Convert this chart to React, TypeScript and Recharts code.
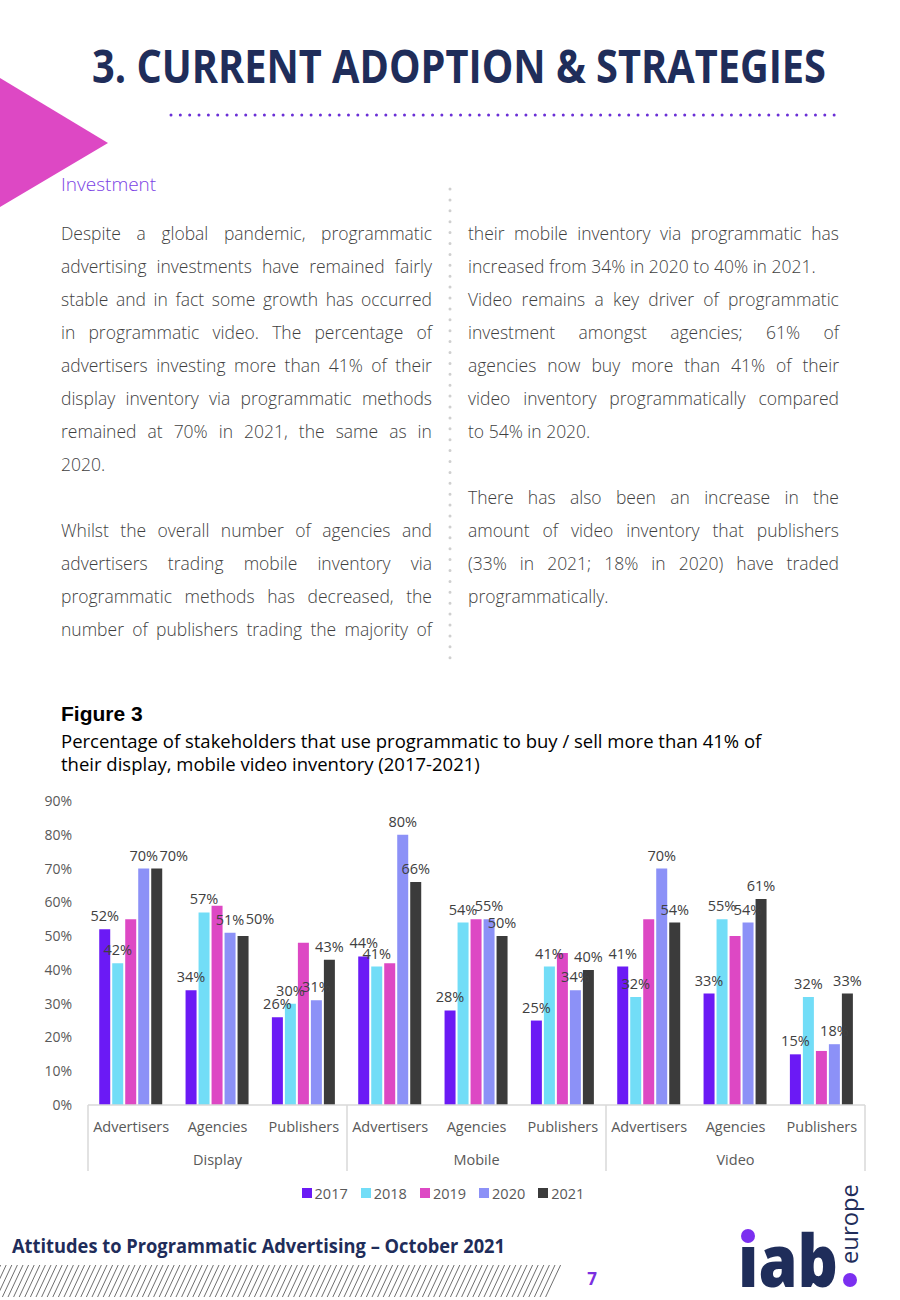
import { BarChart, Bar, XAxis, YAxis, Legend, LabelList } from "recharts";

// --- chart data (Figure 3) ---
const mediums = ["Display", "Mobile", "Video"];
const stakeholders = ["Advertisers", "Agencies", "Publishers"];
const years = ["2017", "2018", "2019", "2020", "2021"];
const yearColors = ["#6B1AF5", "#72DDF7", "#DD48C4", "#8C91F7", "#3B3B3B"];

// order: Display(Adv, Ag, Pub), Mobile(Adv, Ag, Pub), Video(Adv, Ag, Pub)
const values2017 = [52, 34, 26, 44, 28, 25, 41, 33, 15];
const values2018 = [42, 57, 30, 41, 54, 41, 32, 55, 32];
const values2019 = [55, 59, 48, 42, 55, 45, 55, 50, 16];
const values2020 = [70, 51, 31, 80, 55, 34, 70, 54, 18];
const values2021 = [70, 50, 43, 66, 50, 40, 54, 61, 33];
const yTicks = [0, 10, 20, 30, 40, 50, 60, 70, 80, 90];

// the 2019 series carries no data labels in the source
const labelledYears = [true, true, false, true, true];

const seriesValues = [values2017, values2018, values2019, values2020, values2021];

const chartData = mediums.flatMap((m, mi) =>
  stakeholders.map((s, si) => {
    const i = mi * 3 + si;
    const row: Record<string, string | number> = { medium: m, stakeholder: s };
    years.forEach((y, yi) => {
      row["y" + y] = seriesValues[yi][i];
    });
    return row;
  }),
);

const navy = "#1F2D5A";
const axisGrey = "#D9D9D9";
const tickGrey = "#595959";

// --- page text ---
const leftLines: [string, boolean, number][] = [
  ["Despite a global pandemic, programmatic", true, 0],
  ["advertising investments have remained fairly", true, 1],
  ["stable and in fact some growth has occurred", true, 2],
  ["in programmatic video. The percentage of", true, 3],
  ["advertisers investing more than 41% of their", true, 4],
  ["display inventory via programmatic methods", true, 5],
  ["remained at 70% in 2021, the same as in", true, 6],
  ["2020.", false, 7],
  ["Whilst the overall number of agencies and", true, 9],
  ["advertisers trading mobile inventory via", true, 10],
  ["programmatic methods has decreased, the", true, 11],
  ["number of publishers trading the majority of", true, 12],
];

const rightLines: [string, boolean, number][] = [
  ["their mobile inventory via programmatic has", true, 0],
  ["increased from 34% in 2020 to 40% in 2021.", false, 1],
  ["Video remains a key driver of programmatic", true, 2],
  ["investment amongst agencies; 61% of", true, 3],
  ["agencies now buy more than 41% of their", true, 4],
  ["video inventory programmatically compared", true, 5],
  ["to 54% in 2020.", false, 6],
  ["There has also been an increase in the", true, 8],
  ["amount of video inventory that publishers", true, 9],
  ["(33% in 2021; 18% in 2020) have traded", true, 10],
  ["programmatically.", false, 11],
];

function TextLine({ text, justify, row, left }: { text: string; justify: boolean; row: number; left: number }) {
  const base: React.CSSProperties = {
    position: "absolute",
    left,
    top: 217 + row * 33,
    width: 371,
    height: 33,
    lineHeight: "33px",
    fontSize: 17.5,
    fontWeight: 300,
    color: "#3F3F3F",
    whiteSpace: "nowrap",
  };
  if (!justify) return <div style={base}>{text}</div>;
  return (
    <div style={{ ...base, display: "flex", justifyContent: "space-between" }}>
      {text.split(" ").map((w, i) => (
        <span key={i}>{w}</span>
      ))}
    </div>
  );
}

function StakeholderTick(props: any) {
  const { x, y, payload, index } = props;
  const half = payload && typeof payload.offset === "number" && payload.offset > 0 ? payload.offset : 777 / 18;
  const i = index as number;
  return (
    <g>
      <text x={x} y={y + 27} textAnchor="middle" fontSize={14.5} fill={tickGrey} fontFamily="Open Sans">
        {payload.value}
      </text>
      {i % 3 === 1 && (
        <text x={x} y={y + 60} textAnchor="middle" fontSize={14.5} fill={tickGrey} fontFamily="Open Sans">
          {chartData[i].medium as string}
        </text>
      )}
      {i % 3 === 0 && <line x1={x - half} x2={x - half} y1={y} y2={y + 66} stroke={axisGrey} strokeWidth={1.5} />}
      {i === chartData.length - 1 && (
        <line x1={x + half} x2={x + half} y1={y} y2={y + 66} stroke={axisGrey} strokeWidth={1.5} />
      )}
    </g>
  );
}

// Data label above a bar; the 2021 label steps aside when it would sit on the 2020 one
function makeValueLabel(yearIndex: number) {
  return function ValueLabel(props: any) {
    const { x, y, width, value, index } = props;
    let dx = 0;
    let dy = 0;
    if (yearIndex === 4 && Math.abs(values2021[index] - values2020[index]) <= 3) {
      dx = 17;
      dy = values2021[index] === values2020[index] ? 0 : -4;
    }
    return (
      <text
        x={x + width / 2 + dx}
        y={y - 8 + dy}
        textAnchor="middle"
        fontSize={14.5}
        fill="#404040"
        fontFamily="Open Sans"
      >
        {`${value}%`}
      </text>
    );
  };
}

function LegendContent() {
  return (
    <div style={{ display: "flex", justifyContent: "center", height: 24, alignItems: "center", paddingLeft: 14 }}>
      {years.map((y, i) => (
        <div key={y} style={{ display: "flex", alignItems: "center", marginRight: 13 }}>
          <span style={{ width: 10, height: 10, background: yearColors[i], display: "inline-block", marginRight: 3 }} />
          <span style={{ fontSize: 14.5, color: tickGrey, fontFamily: "Open Sans" }}>{y}</span>
        </div>
      ))}
    </div>
  );
}

function Figure3Chart() {
  return (
    <BarChart
      width={866}
      height={420}
      data={chartData}
      margin={{ top: 11, right: 21, left: 0, bottom: 5 }}
      barCategoryGap="13%"
      barGap={2}
    >
      <XAxis
        dataKey="stakeholder"
        interval={0}
        axisLine={{ stroke: axisGrey, strokeWidth: 1.5 }}
        tickLine={false}
        tickSize={0}
        tickMargin={0}
        height={76}
        tick={<StakeholderTick />}
      />
      <YAxis
        domain={[0, 90]}
        ticks={yTicks}
        width={68}
        axisLine={false}
        tickLine={false}
        tickSize={0}
        tickMargin={16}
        tickFormatter={(v) => `${v}%`}
        tick={{ fontSize: 14, fill: tickGrey, fontFamily: "Open Sans" }}
      />
      <Legend verticalAlign="bottom" content={<LegendContent />} />
      {years.map((y, i) => {
        const Label = makeValueLabel(i);
        return (
          <Bar key={y} dataKey={"y" + y} name={y} fill={yearColors[i]} isAnimationActive={false}>
            {labelledYears[i] && <LabelList dataKey={"y" + y} content={<Label />} />}
          </Bar>
        );
      })}
    </BarChart>
  );
}

export default function App() {
  const hatchXs: number[] = [];
  for (let x = -20; x < 565; x += 5.6) hatchXs.push(x);
  return (
    <div
      style={{
        position: "absolute",
        left: 0,
        top: 0,
        width: 900,
        height: 1300,
        background: "#fff",
        fontFamily: "'Open Sans', sans-serif",
        overflow: "hidden",
      }}
    >
      <svg width={900} height={1300} style={{ position: "absolute", left: 0, top: 0 }}>
        <polygon points="0,78 108,143 0,207" fill="#DD48C4" />
        <text
          x={92}
          y={83}
          fontSize={46}
          fontWeight={700}
          fill={navy}
          fontFamily="Open Sans"
          textLength={734}
          lengthAdjust="spacingAndGlyphs"
        >
          3. CURRENT ADOPTION &amp; STRATEGIES
        </text>
        <line
          x1={171}
          x2={836}
          y1={115}
          y2={115}
          stroke="#6A2FD6"
          strokeWidth={3}
          strokeLinecap="round"
          strokeDasharray="0 9.34"
        />
        <line
          x1={450}
          x2={450}
          y1={189}
          y2={665}
          stroke="#CFCFCF"
          strokeWidth={3}
          strokeLinecap="round"
          strokeDasharray="0 10.9"
        />
        <text x={61} y={191} fontSize={19} fontWeight={300} fill="#7B3FE4" fontFamily="Open Sans">
          Investment
        </text>

        <text
          x={12}
          y={1253}
          fontSize={19}
          fontWeight={700}
          fill={navy}
          fontFamily="Open Sans"
          textLength={493}
          lengthAdjust="spacingAndGlyphs"
        >
          Attitudes to Programmatic Advertising – October 2021
        </text>
        <clipPath id="hatchClip">
          <polygon points="0,1265 562,1265 548,1297 0,1297" />
        </clipPath>
        <g clipPath="url(#hatchClip)">
          {hatchXs.map((x, i) => (
            <line key={i} x1={x} y1={1297} x2={x + 15} y2={1265} stroke="#4A4A4A" strokeWidth={0.8} />
          ))}
        </g>
        <text x={592} y={1285} fontSize={17} fontWeight={700} fill="#7B2FE0" fontFamily="Open Sans" textAnchor="middle">
          7
        </text>

        {/* iab europe logo */}
        <text
          x={738}
          y={1287}
          fontSize={72}
          fontWeight={800}
          fill={navy}
          fontFamily="Open Sans"
          textLength={100}
          lengthAdjust="spacingAndGlyphs"
        >
          ıab
        </text>
        <circle cx={748} cy={1236} r={7} fill="#7B2FF0" />
        <circle cx={850} cy={1280} r={7} fill="#7B2FF0" />
        <text
          x={0}
          y={0}
          fontSize={24}
          fill={navy}
          fontFamily="Open Sans"
          transform="translate(858,1264) rotate(-90)"
          textLength={80}
          lengthAdjust="spacingAndGlyphs"
        >
          europe
        </text>
      </svg>

      {leftLines.map(([t, j, r], i) => (
        <TextLine key={"l" + i} text={t} justify={j} row={r} left={61} />
      ))}
      {rightLines.map(([t, j, r], i) => (
        <TextLine key={"r" + i} text={t} justify={j} row={r} left={468} />
      ))}

      <div
        style={{
          position: "absolute",
          left: 61,
          top: 702,
          fontFamily: "'Liberation Sans', Arial, sans-serif",
          fontWeight: 700,
          fontSize: 21,
          color: "#000",
        }}
      >
        Figure 3
      </div>
      <div
        style={{
          position: "absolute",
          left: 61,
          top: 729,
          width: 800,
          fontSize: 18.5,
          lineHeight: "23px",
          color: "#000",
        }}
      >
        Percentage of stakeholders that use programmatic to buy / sell more than 41% of
        <br />
        their display, mobile video inventory (2017-2021)
      </div>

      <div style={{ position: "absolute", left: 20, top: 790 }}>
        <Figure3Chart />
      </div>
    </div>
  );
}
